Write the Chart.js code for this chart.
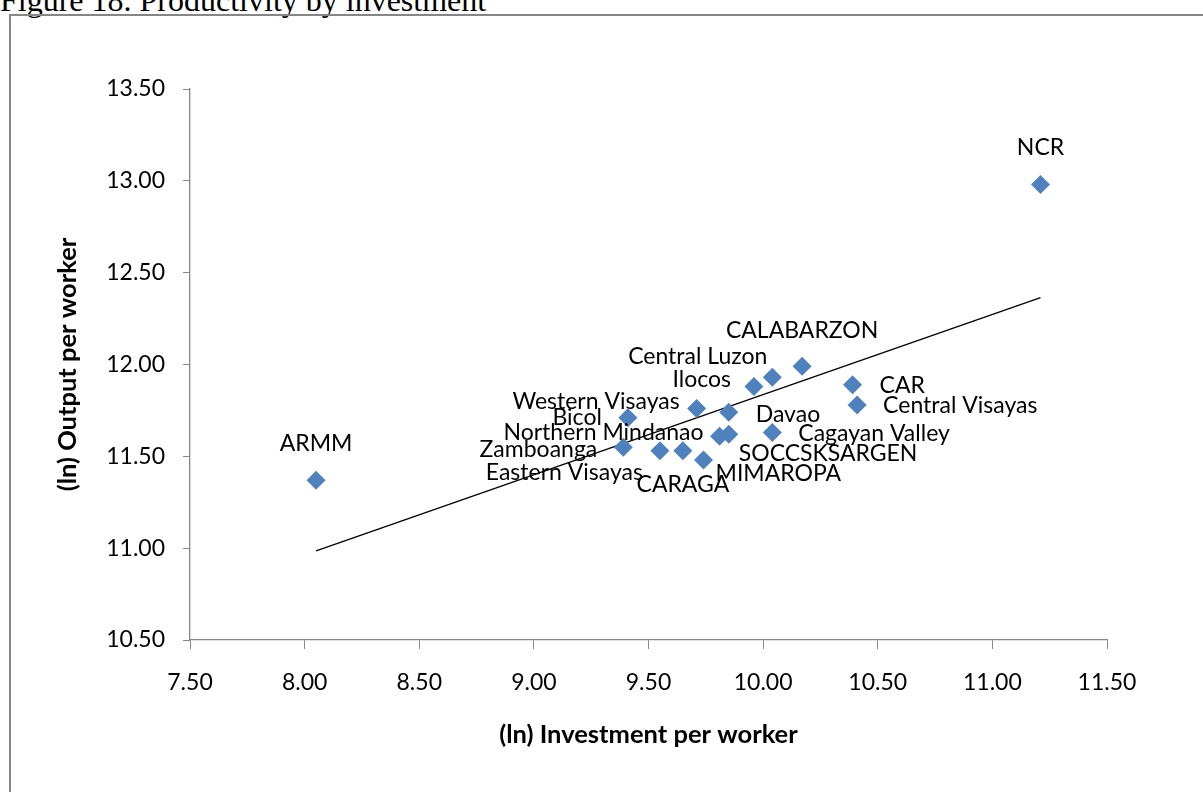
<!DOCTYPE html>
<html>
<head>
    <meta charset="UTF-8">
    <script src="https://cdn.jsdelivr.net/npm/chart.js@4.4.0/dist/chart.umd.min.js"></script>
    <style>
        body {
            margin: 0;
            background: white;
            overflow: hidden;
        }
        .caption {
            position: absolute;
            left: 0;
            top: -16px;
            font-family: "Liberation Serif", serif;
            font-size: 32px;
            line-height: 32px;
            white-space: nowrap;
            color: #000;
        }
        .frame {
            position: absolute;
            left: 9px;
            top: 14px;
            width: 1300px;
            height: 900px;
            border: 2px solid #868686;
        }
        .chart-box {
            position: absolute;
            left: 0;
            top: 0;
            width: 1203px;
            height: 792px;
        }
    </style>
</head>
<body>
    <div class="caption">Figure 18. Productivity by investment</div>
    <div class="frame"></div>
    <div class="chart-box">
        <canvas id="prodChart"></canvas>
    </div>

    <script>
        // region names and values
        const regions = ['ARMM', 'NCR', 'CALABARZON', 'Central Luzon', 'Ilocos', 'CAR',
            'Central Visayas', 'Western Visayas', 'Bicol', 'Davao', 'Northern Mindanao',
            'Cagayan Valley', 'SOCCSKSARGEN', 'Zamboanga', 'Eastern Visayas', 'CARAGA', 'MIMAROPA'];
        const investment = [8.05, 11.21, 10.17, 10.04, 9.96, 10.39,
            10.41, 9.71, 9.41, 9.85, 9.81,
            10.04, 9.85, 9.39, 9.55, 9.65, 9.74];
        const output = [11.37, 12.98, 11.99, 11.93, 11.88, 11.89,
            11.78, 11.76, 11.71, 11.74, 11.61,
            11.63, 11.62, 11.55, 11.53, 11.53, 11.48];

        // linear trend line end points
        const trendX = [8.05, 11.21];
        const trendY = [10.985, 12.364];

        const xTicks = [7.5, 8, 8.5, 9, 9.5, 10, 10.5, 11, 11.5];
        const yTicks = [10.5, 11, 11.5, 12, 12.5, 13, 13.5];

        // where each data label sits relative to its marker
        const labelPos = {
            'ARMM': [0, -37, 'center'],
            'NCR': [0, -37, 'center'],
            'CALABARZON': [0, -36, 'center'],
            'Central Luzon': [-5, -21, 'right'],
            'Ilocos': [-23, -7, 'right'],
            'CAR': [27, 1, 'left'],
            'Central Visayas': [26, 1, 'left'],
            'Western Visayas': [-17, -7, 'right'],
            'Bicol': [-26, 0, 'right'],
            'Davao': [27, 2, 'left'],
            'Northern Mindanao': [-16, -4, 'right'],
            'Cagayan Valley': [26, 1, 'left'],
            'SOCCSKSARGEN': [10, 19, 'left'],
            'Zamboanga': [-26, 2, 'right'],
            'Eastern Visayas': [-17, 22, 'right'],
            'CARAGA': [0, 34, 'center'],
            'MIMAROPA': [12, 14, 'left']
        };

        const fontFamily = 'Lato, "Open Sans", sans-serif';
        const axisGray = '#868686';

        const pointLabels = {
            id: 'pointLabels',
            afterDatasetsDraw(chart) {
                const ctx = chart.ctx;
                const meta = chart.getDatasetMeta(0);
                ctx.save();
                ctx.font = '23px ' + fontFamily;
                ctx.fillStyle = '#000';
                ctx.textBaseline = 'middle';
                meta.data.forEach((pt, i) => {
                    const p = labelPos[regions[i]];
                    ctx.textAlign = p[2];
                    ctx.fillText(regions[i], pt.x + p[0], pt.y + p[1]);
                });
                ctx.restore();
            }
        };

        const ctx = document.getElementById('prodChart').getContext('2d');
        new Chart(ctx, {
            type: 'scatter',
            data: {
                datasets: [{
                    data: investment.map((x, i) => ({ x: x, y: output[i] })),
                    pointStyle: 'rectRot',
                    pointRadius: 9.5,
                    pointHoverRadius: 9.5,
                    backgroundColor: '#4F81BD',
                    borderColor: '#4F81BD',
                    borderWidth: 0
                }, {
                    data: trendX.map((x, i) => ({ x: x, y: trendY[i] })),
                    showLine: true,
                    borderColor: '#000',
                    borderWidth: 1.3,
                    pointRadius: 0
                }]
            },
            options: {
                responsive: true,
                maintainAspectRatio: false,
                animation: false,
                layout: {
                    padding: { top: 89, right: 96, left: 0, bottom: 0 }
                },
                plugins: {
                    legend: { display: false },
                    tooltip: { enabled: false }
                },
                scales: {
                    x: {
                        type: 'linear',
                        min: 7.5,
                        max: 11.5,
                        afterFit: (s) => { s.height = 152; },
                        afterBuildTicks: (s) => { s.ticks = xTicks.map(v => ({ value: v })); },
                        grid: { drawOnChartArea: false, color: axisGray, tickLength: 9 },
                        border: { color: axisGray, width: 1.3 },
                        ticks: {
                            color: '#000',
                            padding: 20,
                            font: { family: fontFamily, size: 23 },
                            callback: (v) => v.toFixed(2)
                        },
                        title: {
                            display: true,
                            text: '(ln) Investment per worker',
                            color: '#000',
                            padding: 41.5,
                            font: { family: fontFamily, size: 25.5, weight: 'bold' }
                        }
                    },
                    y: {
                        min: 10.5,
                        max: 13.5,
                        afterFit: (s) => { s.width = 190; },
                        afterBuildTicks: (s) => { s.ticks = yTicks.map(v => ({ value: v })); },
                        grid: { drawOnChartArea: false, color: axisGray, tickLength: 7 },
                        border: { color: axisGray, width: 1.3 },
                        ticks: {
                            color: '#000',
                            padding: 18,
                            font: { family: fontFamily, size: 23 },
                            callback: (v) => v.toFixed(2)
                        },
                        title: {
                            display: true,
                            text: '(ln) Output per worker',
                            color: '#000',
                            padding: 52.5,
                            font: { family: fontFamily, size: 25.5, weight: 'bold' }
                        }
                    }
                }
            },
            plugins: [pointLabels]
        });
    </script>
</body>
</html>
